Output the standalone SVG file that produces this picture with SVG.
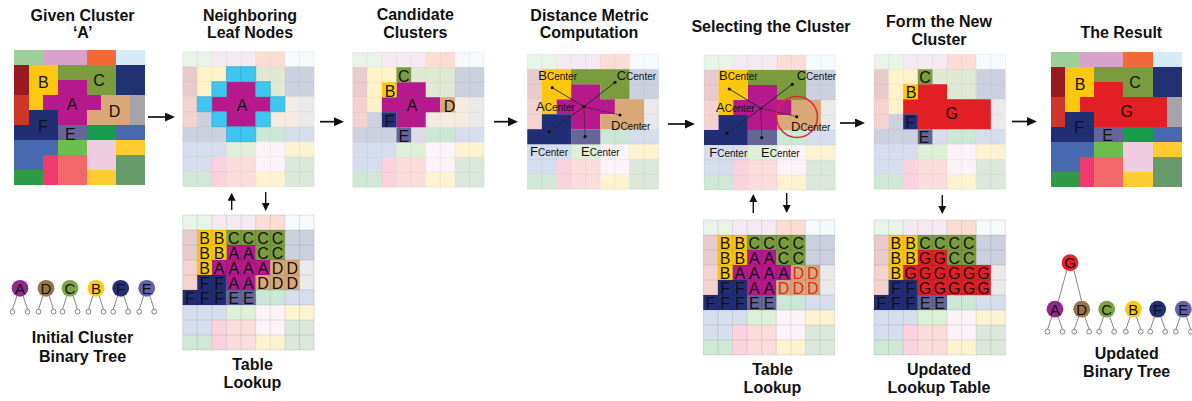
<svg xmlns="http://www.w3.org/2000/svg" xmlns:xlink="http://www.w3.org/1999/xlink" width="1192" height="401" viewBox="0 0 1192 401">
<style>
text{font-family:"Liberation Sans",Arial,sans-serif;fill:#111}
.t{font-weight:bold;font-size:16px;text-anchor:middle}
.l{font-size:16px;text-anchor:middle}
.tl{font-size:16px;text-anchor:middle}
.red{fill:#e3262c}
.cn{font-size:13px}
.cn tspan{font-size:10px}
.nd{font-size:15px;text-anchor:middle}
.cy rect{fill:#3fc6f0;stroke:#2a9fcf;stroke-width:0.6;vector-effect:non-scaling-stroke}
.arr{stroke:#111;stroke-width:1.7;fill:none}
.arr2{stroke:#111;stroke-width:1.4;fill:none}
.ln line{stroke:#222;stroke-width:0.9}
.ln .d{stroke-dasharray:1.5 1}
.dt circle{fill:#111}
.tr{stroke:#666;stroke-width:0.8;fill:none}
.lf{fill:#fff;stroke:#666;stroke-width:0.8}
</style>
<defs>
<marker id="ah" viewBox="0 0 10 9" refX="4" refY="4.5" markerWidth="10" markerHeight="9" markerUnits="userSpaceOnUse" orient="auto"><path d="M0,0L10,4.5L0,9Z" fill="#111"/></marker>
<marker id="ah2" viewBox="0 0 8 8" refX="3" refY="4" markerWidth="8" markerHeight="8" markerUnits="userSpaceOnUse" orient="auto"><path d="M0,0L8,4L0,8Z" fill="#111"/></marker>
<g id="bg">
<rect x="0" y="0" width="2" height="1" fill="#9dcf9b"/>
<rect x="2" y="0" width="3" height="1" fill="#d9a2c9"/>
<rect x="5" y="0" width="2" height="1" fill="#f26a3a"/>
<rect x="7" y="0" width="2" height="1" fill="#d5ecf5"/>
<rect x="0" y="1" width="1" height="2" fill="#9a1b1f"/>
<rect x="0" y="3" width="1" height="2" fill="#cf3529"/>
<rect x="7" y="1" width="2" height="2" fill="#213272"/>
<rect x="8" y="3" width="1" height="2" fill="#a7a4a9"/>
<rect x="5" y="5" width="2" height="1" fill="#169c4a"/>
<rect x="7" y="5" width="2" height="1" fill="#4769b0"/>
<path d="M0,6H3V7H2V8H0Z" fill="#4769b0"/>
<rect x="3" y="6" width="2" height="1" fill="#6dbd4f"/>
<rect x="5" y="6" width="2" height="2" fill="#eecde1"/>
<rect x="7" y="6" width="2" height="1" fill="#fecb30"/>
<rect x="2" y="7" width="1" height="2" fill="#ef3a6f"/>
<rect x="3" y="7" width="2" height="2" fill="#f2676a"/>
<rect x="7" y="7" width="2" height="2" fill="#689b6a"/>
<rect x="0" y="8" width="2" height="1" fill="#2f9b47"/>
<rect x="5" y="8" width="2" height="1" fill="#fecb30"/>
</g>
<path id="cA" d="M3,2H5V3H6V4H5V5H3V4H2V3H3Z" fill="#b5198b"/>
<path id="cB" d="M1,1H3V3H2V4H1Z" fill="#fdc70f"/>
<path id="cC" d="M3,1H7V3H5V2H3Z" fill="#7a9c3f"/>
<path id="cD" d="M6,3H8V5H5V4H6Z" fill="#d9a876"/>
<path id="cF" d="M1,4H3V6H0V5H1Z" fill="#222e73"/>
<path id="cE" d="M3,5H5V6H3Z" fill="#656598"/>
<path id="cG" d="M3,2H5V3H8V5H3V4H2V3H3Z" fill="#e31f26"/>
<g id="clBCFE"><use href="#cB"/><use href="#cC"/><use href="#cF"/><use href="#cE"/></g>
<g id="clAF"><use href="#cA"/><use href="#clBCFE"/><use href="#cD"/></g>
<g id="fd" opacity="0.22"><use href="#bg"/><use href="#clAF"/></g>
<path id="gl" fill="none" stroke="#000" stroke-opacity="0.07" stroke-width="0.7" vector-effect="non-scaling-stroke" d="M0,0H9M0,1H9M0,2H9M0,3H9M0,4H9M0,5H9M0,6H9M0,7H9M0,8H9M0,9H9M0,0V9M1,0V9M2,0V9M3,0V9M4,0V9M5,0V9M6,0V9M7,0V9M8,0V9M9,0V9"/>
<path id="gl2" fill="none" stroke="#000" stroke-opacity="0.15" stroke-width="0.7" vector-effect="non-scaling-stroke" d="M0,0H9M0,1H9M0,2H9M0,3H9M0,4H9M0,5H9M0,6H9M0,7H9M0,8H9M0,9H9M0,0V9M1,0V9M2,0V9M3,0V9M4,0V9M5,0V9M6,0V9M7,0V9M8,0V9M9,0V9"/>
</defs>
<rect width="1192" height="401" fill="#fff"/>

<!-- Panel 1 -->
<g id="p1-given">
<text class="t" x="82.5" y="21">Given Cluster</text>
<text class="t" x="82.7" y="38">&#8216;A&#8217;</text>
<g transform="translate(14,50) scale(14.56,15)" shape-rendering="crispEdges"><use href="#bg"/><use href="#clAF"/></g>
<text class="l" x="43.3" y="88.3">B</text>
<text class="l" x="99" y="86">C</text>
<text class="l" x="72" y="110">A</text>
<text class="l" x="114.5" y="117.3">D</text>
<text class="l" x="43" y="131.7">F</text>
<text class="l" x="70.3" y="140">E</text>
</g>

<!-- Panel 2 -->
<g id="p2-neighbors">
<text class="t" x="250" y="21">Neighboring</text>
<text class="t" x="250" y="37.5">Leaf Nodes</text>
<g transform="translate(182.7,51.7) scale(14.6,15)">
<use href="#fd"/><use href="#gl"/><use href="#cA"/>
<g class="cy"><rect x="3" y="1" width="1" height="1"/><rect x="4" y="1" width="1" height="1"/><rect x="2" y="2" width="1" height="1"/><rect x="5" y="2" width="1" height="1"/><rect x="1" y="3" width="1" height="1"/><rect x="6" y="3" width="1" height="1"/><rect x="2" y="4" width="1" height="1"/><rect x="5" y="4" width="1" height="1"/><rect x="3" y="5" width="1" height="1"/><rect x="4" y="5" width="1" height="1"/></g>
</g>
<text class="l" x="242" y="111">A</text>
</g>

<!-- Panel 3 -->
<g id="p3-candidates">
<text class="t" x="415.3" y="20">Candidate</text>
<text class="t" x="415.3" y="38">Clusters</text>
<g transform="translate(352.7,52.3) scale(14.6,15)">
<use href="#fd"/><use href="#gl"/><use href="#cA"/>
<rect x="3" y="1" width="1" height="1" fill="#7a9c3f"/>
<rect x="2" y="2" width="1" height="1" fill="#fdc70f"/>
<rect x="6" y="3" width="1" height="1" fill="#d9a876"/>
<rect x="2" y="4" width="1" height="1" fill="#222e73"/>
<rect x="3" y="5" width="1" height="1" fill="#656598"/>
</g>
<text class="l" x="403.8" y="81.5">C</text>
<text class="l" x="390" y="96.5">B</text>
<text class="l" x="412" y="111">A</text>
<text class="l" x="449.5" y="111.5">D</text>
<text class="l" x="389.5" y="126.5">F</text>
<text class="l" x="403.8" y="141.5">E</text>
</g>

<!-- Panel 4 -->
<g id="p4-distance">
<text class="t" x="589.5" y="20.5">Distance Metric</text>
<text class="t" x="589" y="37.5">Computation</text>
<g transform="translate(527.3,54.3) scale(14.6,15)">
<use href="#fd"/><use href="#gl"/><use href="#clAF"/>
</g>
<g class="ln">
<line x1="584" y1="106.7" x2="552.3" y2="87.7"/>
<line x1="584" y1="106.7" x2="615" y2="82.3"/>
<line x1="584" y1="106.7" x2="549.3" y2="131.7"/>
<line class="d" x1="584" y1="106.7" x2="620" y2="115"/>
<line class="d" x1="584" y1="106.7" x2="585" y2="136.7"/>
</g>
<g class="dt"><circle cx="584" cy="106.7" r="1.6"/><circle cx="552.3" cy="87.7" r="1.6"/><circle cx="615" cy="82.3" r="1.6"/><circle cx="620" cy="115" r="1.6"/><circle cx="585" cy="136.7" r="1.6"/><circle cx="549.3" cy="131.7" r="1.6"/></g>
<text class="cn" x="538.3" y="80">B<tspan>Center</tspan></text>
<text class="cn" x="616.7" y="80">C<tspan>Center</tspan></text>
<text class="cn" x="536" y="110.7">A<tspan>Center</tspan></text>
<text class="cn" x="611" y="130">D<tspan>Center</tspan></text>
<text class="cn" x="530" y="156">F<tspan>Center</tspan></text>
<text class="cn" x="581" y="156">E<tspan>Center</tspan></text>
</g>

<!-- Panel 5 -->
<g id="p5-selecting">
<text class="t" x="771" y="31.5">Selecting the Cluster</text>
<g transform="translate(704,55) scale(14.6,15)">
<use href="#fd"/><use href="#gl"/><use href="#clAF"/>
</g>
<g class="ln">
<line x1="761" y1="108.3" x2="729.3" y2="89"/>
<line x1="761" y1="108.3" x2="792.3" y2="84.3"/>
<line x1="761" y1="108.3" x2="726.7" y2="133.3"/>
<line class="d" x1="761" y1="108.3" x2="796.7" y2="116.7"/>
<line class="d" x1="761" y1="108.3" x2="761.7" y2="137.7"/>
</g>
<g class="dt"><circle cx="761" cy="108.3" r="1.6"/><circle cx="729.3" cy="89" r="1.6"/><circle cx="792.3" cy="84.3" r="1.6"/><circle cx="796.7" cy="116.7" r="1.6"/><circle cx="761.7" cy="137.7" r="1.6"/><circle cx="726.7" cy="133.3" r="1.6"/></g>
<circle cx="797" cy="117" r="20.4" fill="none" stroke="#e3262c" stroke-width="1.5"/>
<text class="cn" x="719" y="80">B<tspan>Center</tspan></text>
<text class="cn" x="796.7" y="80">C<tspan>Center</tspan></text>
<text class="cn" x="716" y="111.7">A<tspan>Center</tspan></text>
<text class="cn" x="791" y="131">D<tspan>Center</tspan></text>
<text class="cn" x="709.3" y="156.7">F<tspan>Center</tspan></text>
<text class="cn" x="761" y="156.7">E<tspan>Center</tspan></text>
</g>

<!-- Panel 6 -->
<g id="p6-form">
<text class="t" x="939" y="26.5">Form the New</text>
<text class="t" x="939" y="44.5">Cluster</text>
<g transform="translate(874,54.3) scale(14.6,15)">
<use href="#fd"/><use href="#gl"/><use href="#cG"/>
<rect x="3" y="1" width="1" height="1" fill="#7a9c3f"/>
<rect x="2" y="2" width="1" height="1" fill="#fdc70f"/>
<rect x="2" y="4" width="1" height="1" fill="#222e73"/>
<rect x="3" y="5" width="1" height="1" fill="#656598"/>
</g>
<text class="l" x="925" y="83">C</text>
<text class="l" x="911" y="97.5">B</text>
<text class="l" x="951.7" y="119">G</text>
<text class="l" x="910.5" y="127.7">F</text>
<text class="l" x="924" y="142.7">E</text>
</g>

<!-- Panel 7 -->
<g id="p7-result">
<text class="t" x="1121.3" y="37.5">The Result</text>
<g transform="translate(1050.7,52.3) scale(14.56,15)" shape-rendering="crispEdges"><use href="#bg"/><use href="#clBCFE"/><use href="#cG"/></g>
<text class="l" x="1080" y="90">B</text>
<text class="l" x="1135" y="88.3">C</text>
<text class="l" x="1126.7" y="117.3">G</text>
<text class="l" x="1079" y="133.3">F</text>
<text class="l" x="1107.7" y="141">E</text>
</g>

<!-- Table 1 -->
<g id="table-lookup-1">
<g transform="translate(182.7,215) scale(14.6,15)">
<use href="#fd"/><use href="#clAF"/><use href="#gl2"/>
</g>
<g class="tl">
<text x="204.6" y="243.5">B</text><text x="219.2" y="243.5">B</text><text x="233.8" y="243.5">C</text><text x="248.4" y="243.5">C</text><text x="263" y="243.5">C</text><text x="277.6" y="243.5">C</text>
<text x="204.6" y="258.5">B</text><text x="219.2" y="258.5">B</text><text x="233.8" y="258.5">A</text><text x="248.4" y="258.5">A</text><text x="263" y="258.5">C</text><text x="277.6" y="258.5">C</text>
<text x="204.6" y="273.5">B</text><text x="219.2" y="273.5">A</text><text x="233.8" y="273.5">A</text><text x="248.4" y="273.5">A</text><text x="263" y="273.5">A</text><text x="277.6" y="273.5">D</text><text x="292.2" y="273.5">D</text>
<text x="204.6" y="288.5">F</text><text x="219.2" y="288.5">F</text><text x="233.8" y="288.5">A</text><text x="248.4" y="288.5">A</text><text x="263" y="288.5">D</text><text x="277.6" y="288.5">D</text><text x="292.2" y="288.5">D</text>
<text x="190" y="303.5">F</text><text x="204.6" y="303.5">F</text><text x="219.2" y="303.5">F</text><text x="233.8" y="303.5">E</text><text x="248.4" y="303.5">E</text>
</g>
<text class="t" x="252.5" y="370">Table</text>
<text class="t" x="252.5" y="388">Lookup</text>
</g>

<!-- Table 2 -->
<g id="table-lookup-2">
<g transform="translate(703.3,220) scale(14.6,15)">
<use href="#fd"/><use href="#clAF"/><use href="#gl2"/>
</g>
<g class="tl">
<text x="725.2" y="248.5">B</text><text x="739.8" y="248.5">B</text><text x="754.4" y="248.5">C</text><text x="769" y="248.5">C</text><text x="783.6" y="248.5">C</text><text x="798.2" y="248.5">C</text>
<text x="725.2" y="263.5">B</text><text x="739.8" y="263.5">B</text><text x="754.4" y="263.5">A</text><text x="769" y="263.5">A</text><text x="783.6" y="263.5">C</text><text x="798.2" y="263.5">C</text>
<text x="725.2" y="278.5">B</text><text x="739.8" y="278.5">A</text><text x="754.4" y="278.5">A</text><text x="769" y="278.5">A</text><text x="783.6" y="278.5">A</text><text class="red" x="798.2" y="278.5">D</text><text class="red" x="812.8" y="278.5">D</text>
<text x="725.2" y="293.5">F</text><text x="739.8" y="293.5">F</text><text x="754.4" y="293.5">A</text><text x="769" y="293.5">A</text><text class="red" x="783.6" y="293.5">D</text><text class="red" x="798.2" y="293.5">D</text><text class="red" x="812.8" y="293.5">D</text>
<text x="710.6" y="308.5">F</text><text x="725.2" y="308.5">F</text><text x="739.8" y="308.5">F</text><text x="754.4" y="308.5">E</text><text x="769" y="308.5">E</text>
</g>
<text class="t" x="772.5" y="375">Table</text>
<text class="t" x="772.5" y="393">Lookup</text>
</g>

<!-- Table 3 -->
<g id="table-updated">
<g transform="translate(874,220) scale(14.6,15)">
<use href="#fd"/><use href="#clBCFE"/><use href="#cG"/><use href="#gl2"/>
</g>
<g class="tl">
<text x="895.9" y="248.5">B</text><text x="910.5" y="248.5">B</text><text x="925.1" y="248.5">C</text><text x="939.7" y="248.5">C</text><text x="954.3" y="248.5">C</text><text x="968.9" y="248.5">C</text>
<text x="895.9" y="263.5">B</text><text x="910.5" y="263.5">B</text><text x="925.1" y="263.5">G</text><text x="939.7" y="263.5">G</text><text x="954.3" y="263.5">C</text><text x="968.9" y="263.5">C</text>
<text x="895.9" y="278.5">B</text><text x="910.5" y="278.5">G</text><text x="925.1" y="278.5">G</text><text x="939.7" y="278.5">G</text><text x="954.3" y="278.5">G</text><text x="968.9" y="278.5">G</text><text x="983.5" y="278.5">G</text>
<text x="895.9" y="293.5">F</text><text x="910.5" y="293.5">F</text><text x="925.1" y="293.5">G</text><text x="939.7" y="293.5">G</text><text x="954.3" y="293.5">G</text><text x="968.9" y="293.5">G</text><text x="983.5" y="293.5">G</text>
<text x="881.3" y="308.5">F</text><text x="895.9" y="308.5">F</text><text x="910.5" y="308.5">F</text><text x="925.1" y="308.5">E</text><text x="939.7" y="308.5">E</text>
</g>
<text class="t" x="939" y="375">Updated</text>
<text class="t" x="939" y="393">Lookup Table</text>
</g>

<!-- Initial tree -->
<g id="tree-initial">
<g class="tr">
<path d="M17,295.5L12.5,309.5M23,295.5L27.5,309.5"/>
<path d="M43,295.5L38.5,309.5M49,295.5L53.5,309.5"/>
<path d="M67,295.5L62.5,309.5M73,295.5L77.5,309.5"/>
<path d="M93,295.5L88.5,309.5M99,295.5L103.5,309.5"/>
<path d="M117.7,295.5L113.2,309.5M123.7,295.5L128.2,309.5"/>
<path d="M143.7,295.5L139.2,309.5M149.7,295.5L154.2,309.5"/>
</g>
<g class="lf">
<circle cx="12.5" cy="311.7" r="2.4"/><circle cx="27.5" cy="311.7" r="2.4"/>
<circle cx="38.5" cy="311.7" r="2.4"/><circle cx="53.5" cy="311.7" r="2.4"/>
<circle cx="62.5" cy="311.7" r="2.4"/><circle cx="77.5" cy="311.7" r="2.4"/>
<circle cx="88.5" cy="311.7" r="2.4"/><circle cx="103.5" cy="311.7" r="2.4"/>
<circle cx="113.2" cy="311.7" r="2.4"/><circle cx="128.2" cy="311.7" r="2.4"/>
<circle cx="139.2" cy="311.7" r="2.4"/><circle cx="154.2" cy="311.7" r="2.4"/>
</g>
<g id="n0-A"><circle cx="20" cy="288.3" r="8.4" fill="#922a8d"/><text class="nd" x="20" y="293.8">A</text></g>
<g id="n0-D"><circle cx="46" cy="288.3" r="8.4" fill="#9b7444"/><text class="nd" x="46" y="293.8">D</text></g>
<g id="n0-C"><circle cx="70" cy="288.3" r="8.4" fill="#7aa540"/><text class="nd" x="70" y="293.8">C</text></g>
<g id="n0-B"><circle cx="96" cy="288.3" r="8.4" fill="#fcc814"/><text class="nd" x="96" y="293.8">B</text></g>
<g id="n0-F"><circle cx="120.7" cy="288.3" r="8.4" fill="#233275"/><text class="nd" x="120.7" y="293.8">F</text></g>
<g id="n0-E"><circle cx="146.7" cy="288.3" r="8.4" fill="#6361a8"/><text class="nd" x="146.7" y="293.8">E</text></g>
<text class="t" x="82.5" y="343.3">Initial Cluster</text>
<text class="t" x="82.5" y="361.7">Binary Tree</text>
</g>

<!-- Updated tree -->
<g id="tree-updated">
<g class="tr">
<path d="M1066.7,270.5L1058.3,301.5M1074,270.5L1081.7,301.5"/>
<path d="M1052,316.5L1047.5,329.5M1058,316.5L1062.5,329.5"/>
<path d="M1078.7,316.5L1074.2,329.5M1084.7,316.5L1089.2,329.5"/>
<path d="M1103.7,316.5L1099.2,329.5M1109.7,316.5L1114.2,329.5"/>
<path d="M1130.3,316.5L1125.8,329.5M1136.3,316.5L1140.8,329.5"/>
<path d="M1154.7,316.5L1150.2,329.5M1160.7,316.5L1165.2,329.5"/>
<path d="M1180.3,316.5L1175.8,329.5M1186.3,316.5L1190.8,329.5"/>
</g>
<g class="lf">
<circle cx="1047.5" cy="331.7" r="2.4"/><circle cx="1062.5" cy="331.7" r="2.4"/>
<circle cx="1074.2" cy="331.7" r="2.4"/><circle cx="1089.2" cy="331.7" r="2.4"/>
<circle cx="1099.2" cy="331.7" r="2.4"/><circle cx="1114.2" cy="331.7" r="2.4"/>
<circle cx="1125.8" cy="331.7" r="2.4"/><circle cx="1140.8" cy="331.7" r="2.4"/>
<circle cx="1150.2" cy="331.7" r="2.4"/><circle cx="1165.2" cy="331.7" r="2.4"/>
<circle cx="1175.8" cy="331.7" r="2.4"/><circle cx="1190.8" cy="331.7" r="2.4"/>
</g>
<g id="n1-G"><circle cx="1070" cy="262.7" r="8.4" fill="#e52228"/><text class="nd" x="1070" y="268.2">G</text></g>
<g id="n1-A"><circle cx="1055" cy="309.2" r="8.4" fill="#922a8d"/><text class="nd" x="1055" y="314.7">A</text></g>
<g id="n1-D"><circle cx="1081.7" cy="309.2" r="8.4" fill="#9b7444"/><text class="nd" x="1081.7" y="314.7">D</text></g>
<g id="n1-C"><circle cx="1106.7" cy="309.2" r="8.4" fill="#7aa540"/><text class="nd" x="1106.7" y="314.7">C</text></g>
<g id="n1-B"><circle cx="1133.3" cy="309.2" r="8.4" fill="#fcc814"/><text class="nd" x="1133.3" y="314.7">B</text></g>
<g id="n1-F"><circle cx="1157.7" cy="309.2" r="8.4" fill="#233275"/><text class="nd" x="1157.7" y="314.7">F</text></g>
<g id="n1-E"><circle cx="1183.3" cy="309.2" r="8.4" fill="#6361a8"/><text class="nd" x="1183.3" y="314.7">E</text></g>
<text class="t" x="1126.7" y="359.3">Updated</text>
<text class="t" x="1126.7" y="377.3">Binary Tree</text>
</g>

<!-- Connectors -->
<g id="connectors">
<line class="arr" x1="148" y1="117" x2="169" y2="117" marker-end="url(#ah)"/>
<line class="arr" x1="320" y1="121.7" x2="338" y2="121.7" marker-end="url(#ah)"/>
<line class="arr" x1="494" y1="121.7" x2="512" y2="121.7" marker-end="url(#ah)"/>
<line class="arr" x1="668" y1="124" x2="689" y2="124" marker-end="url(#ah)"/>
<line class="arr" x1="840" y1="123" x2="859" y2="123" marker-end="url(#ah)"/>
<line class="arr" x1="1012" y1="121.5" x2="1031" y2="121.5" marker-end="url(#ah)"/>
<line class="arr2" x1="231.7" y1="210" x2="231.7" y2="197.7" marker-end="url(#ah2)"/>
<line class="arr2" x1="265.7" y1="192" x2="265.7" y2="206" marker-end="url(#ah2)"/>
<line class="arr2" x1="753.3" y1="213" x2="753.3" y2="199" marker-end="url(#ah2)"/>
<line class="arr2" x1="786.7" y1="193" x2="786.7" y2="208" marker-end="url(#ah2)"/>
<line class="arr2" x1="942.3" y1="195" x2="942.3" y2="209" marker-end="url(#ah2)"/>
</g>
</svg>
